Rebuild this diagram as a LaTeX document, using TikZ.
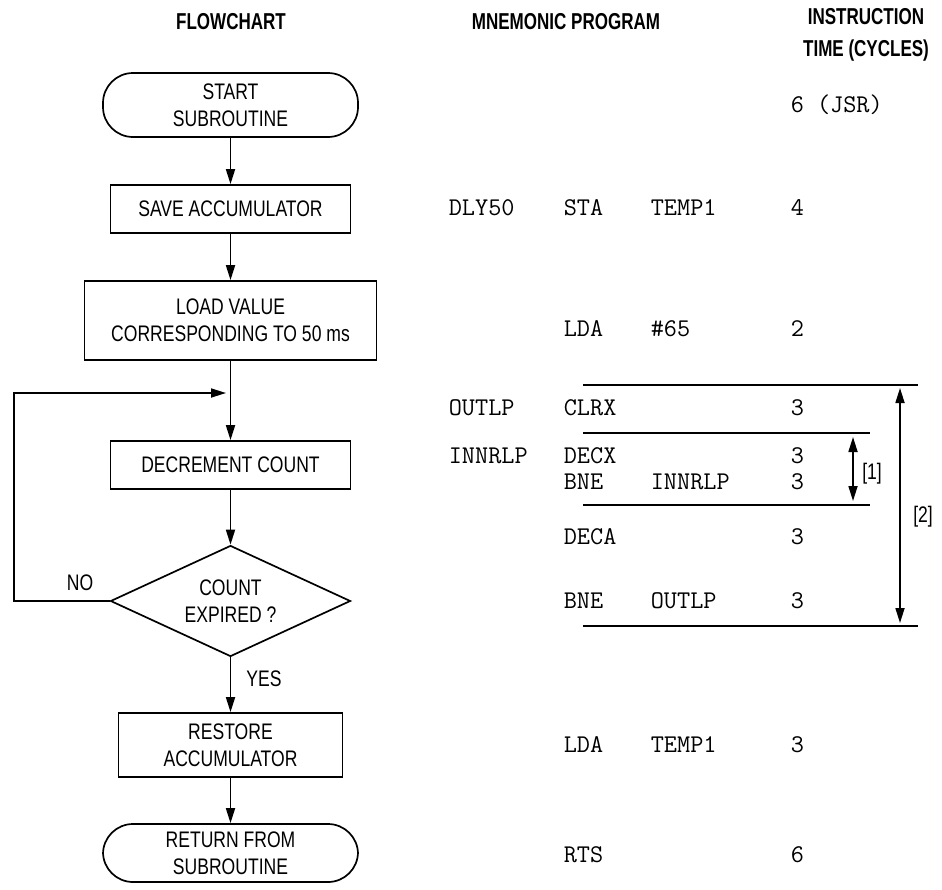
\documentclass[tikz,border=0pt]{standalone}
\usepackage{fontspec}
\setmainfont{Liberation Sans}[FakeStretch=0.78]
\newfontfamily\headfont{Liberation Sans}[FakeStretch=0.74]
\usepackage{tikz}
\usetikzlibrary{arrows.meta,shapes.geometric}

\begin{document}
\begin{tikzpicture}[
  x=1pt,y=-1pt,
  line width=1.7pt,
  txt/.style={font=\fontsize{22.5}{27}\selectfont,align=center},
  hdr/.style={font=\headfont\fontsize{23}{32}\selectfont\bfseries,align=center},
  box/.style={draw,txt,inner sep=0pt},
  term/.style={box,rounded corners=30pt},
  cond/.style={box,diamond,aspect=2.2},
  code/.style={font=\fontsize{25.5}{27}\selectfont\ttfamily,anchor=west,inner sep=0pt},
  ar/.style={-{Triangle[length=15pt,width=9pt]}},
  dim/.style={{Triangle[length=15pt,width=9pt]}-{Triangle[length=15pt,width=9pt]}},
]
  \useasboundingbox (0,0) rectangle (942,889);
  % column heads
  \node[hdr] (hflow) at (231,22) {FLOWCHART};
  \node[hdr] (hmnem) at (566,22) {MNEMONIC PROGRAM};
  \node[hdr] (hcyc) at (866,35) {INSTRUCTION\\TIME (CYCLES)};
  % flowchart
  \node[term,minimum width=255pt,minimum height=64pt] (start) at (230.5,105) {START\\SUBROUTINE};
  \node[box,minimum width=240pt,minimum height=48pt] (save) at (230.5,209) {SAVE ACCUMULATOR};
  \node[box,minimum width=292pt,minimum height=79pt] (load) at (230.5,320.5) {LOAD VALUE\\CORRESPONDING TO 50 ms};
  \node[box,minimum width=240pt,minimum height=48pt] (decr) at (230.5,465) {DECREMENT COUNT};
  \node[cond,minimum width=240pt,minimum height=111pt] (test) at (230.5,601) {COUNT\\EXPIRED ?};
  \node[box,minimum width=224pt,minimum height=64pt] (rest) at (230.5,745) {RESTORE\\ACCUMULATOR};
  \node[term,minimum width=255pt,minimum height=58pt] (ret) at (230.5,853) {RETURN FROM\\SUBROUTINE};
  \coordinate (loopl) at (14,393);
  \coordinate (merge) at (226,393);
  \draw[ar] (start.south) -- (save.north);
  \draw[ar] (save.south) -- (load.north);
  \draw[ar] (load.south) -- (decr.north);
  \draw[ar] (decr.south) -- (test.north);
  \draw[ar] (test.south) -- (rest.north);
  \draw[ar] (rest.south) -- (ret.north);
  \draw[ar] (test.west) -| (loopl) -- (merge);
  \node[txt] (no) at (80,583) {NO};
  \node[txt] (yes) at (264,679) {YES};
  % program listing
  \node[code] (c0) at (790,105) {6 (JSR)};
  \node[code] (l1) at (448,208) {DLY50};
  \node[code] (o1) at (563,208) {STA};
  \node[code] (a1) at (650,208) {TEMP1};
  \node[code] (c1) at (790,208) {4};
  \node[code] (o2) at (563,329) {LDA};
  \node[code] (a2) at (650,329) {\#65};
  \node[code] (c2) at (790,329) {2};
  \node[code] (l3) at (448,408) {OUTLP};
  \node[code] (o3) at (563,408) {CLRX};
  \node[code] (c3) at (790,408) {3};
  \node[code] (l4) at (448,456) {INNRLP};
  \node[code] (o4) at (563,456) {DECX};
  \node[code] (c4) at (790,456) {3};
  \node[code] (o5) at (563,482) {BNE};
  \node[code] (a5) at (650,482) {INNRLP};
  \node[code] (c5) at (790,482) {3};
  \node[code] (o6) at (563,537) {DECA};
  \node[code] (c6) at (790,537) {3};
  \node[code] (o7) at (563,601) {BNE};
  \node[code] (a7) at (650,601) {OUTLP};
  \node[code] (c7) at (790,601) {3};
  \node[code] (o8) at (563,745) {LDA};
  \node[code] (a8) at (650,745) {TEMP1};
  \node[code] (c8) at (790,745) {3};
  \node[code] (o9) at (563,855) {RTS};
  \node[code] (c9) at (790,855) {6};
  % loop rules and timing spans
  \coordinate (ra) at (583,385); \coordinate (rb) at (918,385);
  \coordinate (sa) at (583,433); \coordinate (sb) at (870,433);
  \coordinate (ta) at (583,505); \coordinate (tb) at (870,505);
  \coordinate (ua) at (583,626); \coordinate (ub) at (918,626);
  \draw (ra) -- (rb);
  \draw (sa) -- (sb);
  \draw (ta) -- (tb);
  \draw (ua) -- (ub);
  \coordinate (d1a) at (853,437); \coordinate (d1b) at (853,501);
  \coordinate (d2a) at (900,388); \coordinate (d2b) at (900,623);
  \draw[dim] (d1a) -- (d1b);
  \draw[dim] (d2a) -- (d2b);
  \node[txt] (n1) at (872,474) {[1]};
  \node[txt] (n2) at (923,517) {[2]};
\end{tikzpicture}
\end{document}
